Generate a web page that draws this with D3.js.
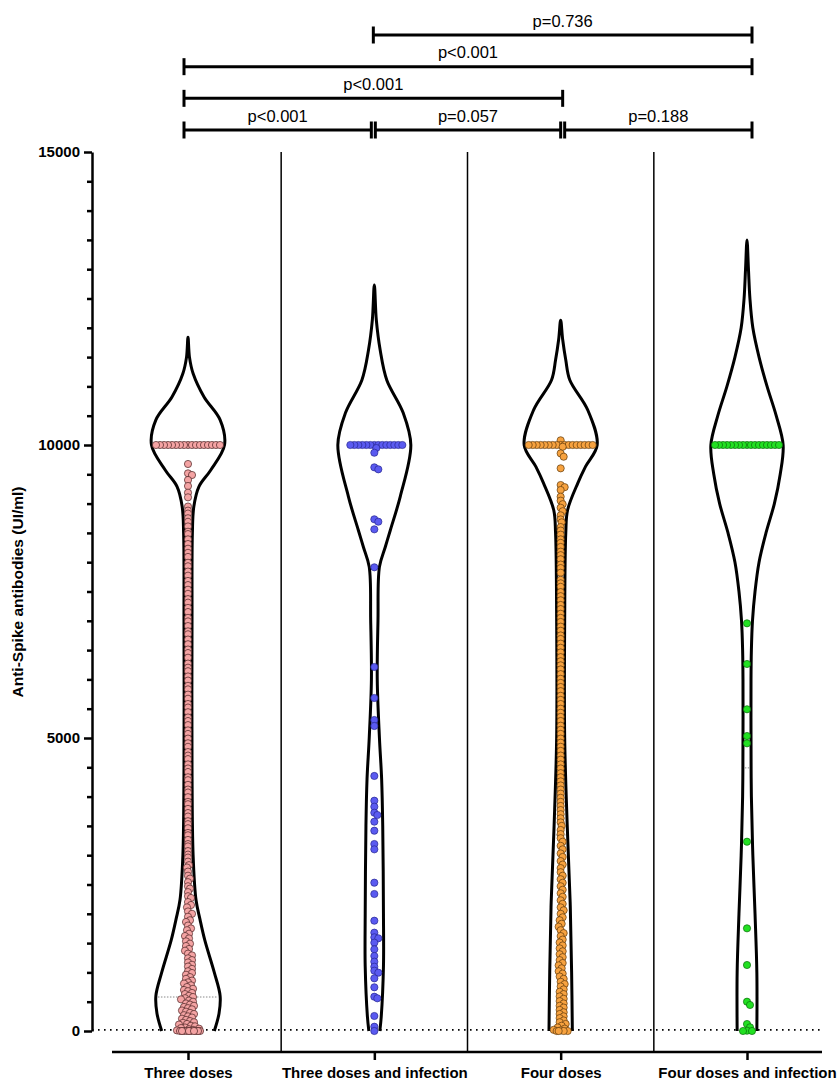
<!DOCTYPE html>
<html>
<head>
<meta charset="utf-8">
<title>Anti-Spike antibodies by group</title>
<script src="https://cdn.jsdelivr.net/npm/d3@7"></script>
<style>
  body { margin: 0; background: #fff; }
  svg text { font-family: "Liberation Sans", Arial, Helvetica, sans-serif; }
</style>
</head>
<body>
<div id="chart"></div>
<script>
// ---- data ----
var groups = ["Three doses", "Three doses and infection", "Four doses", "Four doses and infection"];
var fills = ["#F4A3A3", "#5A5AF0", "#F7A23F", "#22E022"];
var outlines = ["#4a2222", "#262690", "#5e3a0c", "#0b6b0b"];
var yTicks = [0, 5000, 10000, 15000];
var cutoffValue = 20;
var ceilingValue = 10000;
var lowerQuartile = [580, null, 3345, 4490];

// violin outlines: [value, relative density]
var violin1 = [[0,.72],[300,.85],[600,.88],[1000,.72],[1550,.46],[1900,.33],[2235,.22],[3000,.14],[4500,.11],[7000,.11],[8500,.12],[8950,.16],[9290,.30],[9570,.62],[10000,1],[10430,.88],[10820,.44],[11220,.14],[11500,.04],[11840,0]];
var violin2 = [[0,.15],[250,.19],[1100,.25],[2000,.25],[3500,.23],[4300,.20],[5000,.14],[6000,.08],[7000,.10],[7920,.14],[8260,.30],[8550,.44],[9120,.71],[10000,1],[10550,.79],[11110,.34],[11620,.16],[12130,.055],[12730,0]];
var violin3 = [[0,.32],[1000,.30],[2200,.26],[3500,.18],[5000,.11],[7000,.11],[8500,.14],[8890,.19],[9350,.47],[9630,.68],[10000,1],[10600,.74],[11110,.25],[11450,.14],[11800,.055],[12130,0]];
var violin4 = [[0,.27],[1000,.27],[2000,.22],[3000,.16],[4000,.12],[5000,.11],[6000,.11],[6500,.12],[7000,.15],[7500,.22],[8000,.33],[8500,.52],[9000,.75],[9500,.91],[10000,.99],[10500,.80],[11000,.55],[11500,.33],[12000,.16],[12500,.08],[13000,.04],[13500,0]];

var dots1 = [10000,10000,10000,10000,10000,10000,10000,10000,10000,10000,10000,10000,10000,10000,10000,10000,10000,
  9676,9516,9488,9403,9300,9186,9107,8950,8880,8830,8750,8690,8610,8520,8480,8390,8310,8230,8160,8090,7990,7930,7840,7770,7680,7610,7530,7460,7370,7310,7220,7150,7050,6990,6910,6820,6770,6680,6600,6510,6450,6370,6270,6200,6140,6050,5980,5890,5830,5740,5670,5580,5520,5440,5350,5290,5220,5130,5070,4990,4910,4850,4760,4700,4640,4550,4480,4420,4330,4280,4200,4120,4070,3990,3910,3870,3790,3720,3660,3580,3530,3460,3380,3340,3260,3190,3150,3070,3010,2960,2890,2830,2790,2720,2650,2600,2540,2470,2430,2370,2300,2270,2200,2150,2110,2040,2000,1950,1890,1860,1800,1750,1720,1660,1620,1580,1530,1490,1450,1400,1370,1320,1290,1240,1210,1170,1130,1100,1060,1020,990,960,920,890,860,830,810,780,750,720,700,680,650,630,600,580,560,540,520,500,470,450,430,410,390,370,350,330,310,290,270,250,230,210,190,170,150,140,120,110,90,80,60,50,40,30,20,10,0,0,0,0,0,0,0,0,0,0];
var dots2 = [10000,10000,10000,10000,10000,10000,10000,10000,10000,10000,10000,10000,10000,10000,
  9948,9868,9619,9585,8732,8691,8561,7913,6212,5683,5307,5205,4352,3930,3828,3725,3686,3572,3418,3191,3100,2531,2338,1882,1678,1599,1582,1507,1394,1280,1183,1097,1029,995,899,746,585,558,256,73,0];
var dots3 = [10000,10000,10000,10000,10000,10000,10000,10000,10000,10000,10000,10000,10000,10000,10000,10000,10000,10080,
  9970,9857,9800,9602,9317,9280,9232,9118,9050,8990,8930,8870,8800,8730,8680,8600,8540,8470,8390,8330,8260,8180,8120,8050,7960,7900,7820,7700,7640,7580,7490,7420,7350,7270,7200,7120,7050,6980,6900,6830,6750,6690,6610,6540,6460,6380,6310,6240,6170,6090,6010,5940,5870,5800,5720,5650,5580,5500,5430,5360,5290,5210,5140,5070,4990,4920,4850,4780,4700,4630,4550,4480,4400,4330,4260,4190,4120,4050,3980,3910,3840,3770,3700,3630,3560,3500,3430,3360,3290,3230,3160,3100,3030,2970,2900,2840,2780,2710,2650,2590,2530,2470,2410,2350,2290,2230,2170,2110,2060,2000,1940,1890,1830,1780,1720,1670,1620,1560,1510,1460,1410,1360,1310,1260,1210,1160,1120,1070,1020,980,930,890,840,800,760,710,670,630,590,550,510,470,430,400,360,320,290,250,220,180,150,120,90,60,40,20,10,0,0,0,0];
var dots4 = [10000,10000,10000,10000,10000,10000,10000,10000,10000,10000,10000,10000,10000,10000,10000,10000,10000,
  6957,6263,5490,5034,4909,3230,1752,1126,500,444,119,63,5,0,0];

// pairwise comparisons
var compFrom = [0, 1, 2, 0, 0, 1];
var compTo = [1, 2, 3, 2, 3, 3];
var compRow = [0, 0, 0, 1, 2, 3];
var compLabel = ["p<0.001", "p=0.057", "p=0.188", "p<0.001", "p<0.001", "p=0.736"];

var violins = [violin1, violin2, violin3, violin4];
var dots = [dots1, dots2, dots3, dots4];

// ---- layout ----
var width = 838, height = 1081;
var svg = d3.select("#chart").append("svg")
  .attr("width", width).attr("height", height);

var y = d3.scaleLinear().domain([0, 15000]).range([1031, 152]);
var x = d3.scalePoint().domain(groups).range([188, 747]);
var xBracket = d3.scalePoint().domain(groups).range([184, 752]);
var rowY = d3.scaleLinear().domain([0, 3]).range([130, 35]);
var halfW = d3.scaleLinear().domain([0, 1]).range([0, 36.5]);
var step = x.step();

// separators between groups
svg.append("g").selectAll("line").data(groups.slice(1)).enter().append("line")
  .attr("x1", function(d) { return x(d) - step / 2; })
  .attr("x2", function(d) { return x(d) - step / 2; })
  .attr("y1", y(15000)).attr("y2", 1052)
  .attr("stroke", "#000").attr("stroke-width", 1.5);

// dotted reference line
svg.append("line")
  .attr("x1", 92).attr("x2", x(groups[3]) + 73)
  .attr("y1", y(cutoffValue)).attr("y2", y(cutoffValue))
  .attr("stroke", "#000").attr("stroke-width", 1.6)
  .attr("stroke-dasharray", "1.6,4.4");

// violins (open at the bottom)
var vline = d3.line().x(function(d) { return d[0]; }).y(function(d) { return d[1]; })
  .curve(d3.curveCatmullRom.alpha(0.5));

function widthAt(profile, v) {
  for (var i = 0; i < profile.length - 1; i++) {
    if (v >= profile[i][0] && v <= profile[i + 1][0]) {
      var t = (v - profile[i][0]) / (profile[i + 1][0] - profile[i][0]);
      return halfW(profile[i][1] + t * (profile[i + 1][1] - profile[i][1]));
    }
  }
  return 0;
}

violins.forEach(function(profile, gi) {
  var cx = x(groups[gi]);
  var left = profile.map(function(p) { return [cx - halfW(p[1]), y(p[0])]; });
  var right = profile.slice(0, -1).reverse().map(function(p) { return [cx + halfW(p[1]), y(p[0])]; });
  svg.append("path")
    .attr("d", vline(left.concat(right)))
    .attr("fill", "none").attr("stroke", "#000").attr("stroke-width", 3)
    .attr("stroke-linejoin", "round");

  if (lowerQuartile[gi] != null) {
    var w = widthAt(profile, lowerQuartile[gi]) - 2;
    svg.append("line")
      .attr("x1", cx - w).attr("x2", cx + w)
      .attr("y1", y(lowerQuartile[gi])).attr("y2", y(lowerQuartile[gi]))
      .attr("stroke", "#888").attr("stroke-width", 1)
      .attr("stroke-dasharray", "1.5,1.5");
  }
});

// scatter points, spread sideways where they would overlap
// (ties at the assay ceiling fan out across the violin, the rest stay in a narrow column)
var r = 3.6, minDist = 3.9;
function swarm(values, profile) {
  var placed = [];
  values.slice().sort(function(a, b) { return b - a; }).forEach(function(v) {
    var py = y(v);
    var maxOff = v >= ceilingValue ? 34 : Math.max(0, Math.min(12, widthAt(profile, v) - r - 1));
    var best = 0, bestGap = -1;
    for (var k = 0; k < 200; k++) {
      var cand = (k % 2 ? 1 : -1) * Math.ceil(k / 2);
      if (Math.abs(cand) > maxOff) break;
      var gap = d3.min(placed, function(p) {
        var dx = p.dx - cand, dy = p.y - py;
        return Math.sqrt(dx * dx + dy * dy);
      });
      if (gap === undefined) gap = Infinity;
      if (gap >= minDist) { best = cand; bestGap = gap; break; }
      if (gap > bestGap) { best = cand; bestGap = gap; }
    }
    placed.push({ v: v, y: py, dx: best });
  });
  return placed;
}

dots.forEach(function(values, gi) {
  var cx = x(groups[gi]);
  svg.append("g").selectAll("circle").data(swarm(values, violins[gi])).enter().append("circle")
    .attr("cx", function(d) { return cx + d.dx; })
    .attr("cy", function(d) { return d.y; })
    .attr("r", r)
    .attr("fill", fills[gi])
    .attr("stroke", outlines[gi]).attr("stroke-width", 0.7);
});

// y axis
var yAxis = svg.append("g").attr("transform", "translate(92,0)")
  .call(d3.axisLeft(y).tickValues(yTicks).tickSize(8).tickSizeOuter(0).tickPadding(4)
    .tickFormat(d3.format("d")));
svg.append("g").attr("transform", "translate(92,0)")
  .call(d3.axisLeft(y).tickValues(d3.range(500, 15000, 500).filter(function(v) { return v % 5000; }))
    .tickSize(5).tickFormat(""))
  .select(".domain").remove();
svg.selectAll("g .domain, g .tick line").attr("stroke", "#000").attr("stroke-width", 2.5);
yAxis.selectAll("text").attr("font-size", 15).attr("font-weight", "bold")
  .attr("font-family", "'Liberation Sans', Arial, sans-serif").attr("fill", "#000");

svg.append("text")
  .attr("transform", "translate(23,592) rotate(-90)")
  .attr("text-anchor", "middle")
  .attr("font-size", 15.5).attr("font-weight", "bold")
  .text("Anti-Spike antibodies (UI/ml)");

// x axis
svg.append("line")
  .attr("x1", x(groups[0]) - 76).attr("x2", x(groups[3]) + 75)
  .attr("y1", 1052).attr("y2", 1052)
  .attr("stroke", "#000").attr("stroke-width", 2.5);
var xAxis = svg.append("g").attr("transform", "translate(0,1052)")
  .call(d3.axisBottom(x).tickSize(8).tickPadding(7));
xAxis.select(".domain").remove();
xAxis.selectAll(".tick line").attr("stroke", "#000").attr("stroke-width", 2.5);
xAxis.selectAll("text").attr("font-size", 15).attr("font-weight", "bold")
  .attr("font-family", "'Liberation Sans', Arial, sans-serif").attr("fill", "#000");

// significance brackets
compFrom.forEach(function(a, i) {
  var b = compTo[i], row = compRow[i], yy = rowY(row);
  var abutLeft = compTo.some(function(t, j) { return j !== i && compRow[j] === row && t === a; });
  var abutRight = compFrom.some(function(f, j) { return j !== i && compRow[j] === row && f === b; });
  var x1 = xBracket(groups[a]) + (abutLeft ? 2 : 0);
  var x2 = xBracket(groups[b]) - (abutRight ? 2 : 0);
  var g = svg.append("g").attr("stroke", "#000").attr("stroke-width", 3);
  g.append("line").attr("x1", x1).attr("x2", x2).attr("y1", yy).attr("y2", yy);
  g.append("line").attr("x1", x1).attr("x2", x1).attr("y1", yy - 8.5).attr("y2", yy + 8.5);
  g.append("line").attr("x1", x2).attr("x2", x2).attr("y1", yy - 8.5).attr("y2", yy + 8.5);
  svg.append("text")
    .attr("x", (x1 + x2) / 2).attr("y", yy - 8.5)
    .attr("text-anchor", "middle").attr("font-size", 16.5)
    .text(compLabel[i]);
});
</script>
</body>
</html>
